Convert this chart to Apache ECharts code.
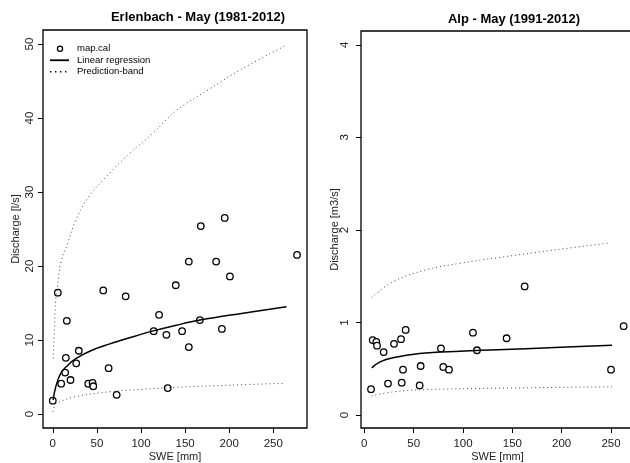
<!DOCTYPE html>
<html>
<head>
<meta charset="utf-8">
<script src="https://cdn.jsdelivr.net/npm/echarts@6/dist/echarts.min.js"></script>
<style>
  html, body { margin: 0; padding: 0; background: #fff; }
  #chart { width: 630px; height: 463px; }
</style>
</head>
<body>
<div id="chart"></div>
<script>
// Erlenbach - observed May values
var erlSwe = [0, 5.7, 9.5, 14.0, 14.8, 15.9, 20.1, 26.6, 29.5, 40.2, 45.1, 45.9, 57.2, 63.3, 72.4, 82.6,
  114.4, 120.5, 128.8, 130.3, 139.4, 146.6, 154.2, 154.2, 166.7, 167.8, 185.2, 191.7, 194.9, 200.8, 276.9];
var erlQ = [1.8, 16.4, 4.1, 5.6, 7.6, 12.6, 4.6, 6.85, 8.55, 4.1, 4.2, 3.75, 16.7, 6.2, 2.6, 15.9,
  11.2, 13.4, 10.7, 3.5, 17.4, 11.2, 20.6, 9.05, 12.7, 25.4, 20.6, 11.5, 26.5, 18.6, 21.5];
// regression curve and prediction band
var erlFitX = [0.4, 3.4, 9, 17, 26, 45, 64, 87, 113, 140, 167, 214, 265];
var erlFitY = [1.9, 3.7, 5.5, 6.6, 7.5, 8.65, 9.45, 10.3, 11.2, 12.0, 12.7, 13.6, 14.5];
var erlUpX = [0.5, 2, 3.4, 5.3, 9, 17, 26, 41, 64, 87, 113, 140, 176, 214, 264];
var erlUpY = [7.5, 12, 15.5, 17.2, 20.4, 23.1, 26.2, 29.4, 32.5, 35.2, 37.9, 41.0, 43.8, 46.6, 49.8];
var erlLoX = [0.2, 2, 5, 26, 64, 102, 140, 200, 264];
var erlLoY = [0.3, 1.1, 1.5, 2.35, 3.0, 3.35, 3.6, 3.9, 4.15];

// Alp - observed May values
var alpSwe = [6.8, 8.5, 12.2, 12.9, 19.6, 24.0, 30.1, 37.2, 37.9, 39.2, 41.9, 56.1, 57.1, 77.7, 80.0, 85.8,
  110.1, 114.2, 144.2, 162.5, 250, 262.8];
var alpQ = [0.28, 0.81, 0.79, 0.75, 0.68, 0.34, 0.77, 0.82, 0.35, 0.49, 0.92, 0.32, 0.53, 0.72, 0.52, 0.49,
  0.89, 0.70, 0.83, 1.39, 0.49, 0.96];
var alpFitX = [7.5, 16, 29, 56, 97, 135, 193, 251];
var alpFitY = [0.51, 0.575, 0.62, 0.665, 0.69, 0.705, 0.73, 0.755];
var alpUpX = [7.5, 29, 63, 97, 135, 190, 249];
var alpUpY = [1.27, 1.44, 1.57, 1.64, 1.70, 1.78, 1.86];
var alpLoX = [7.5, 29, 63, 135, 251];
var alpLoY = [0.205, 0.25, 0.275, 0.29, 0.305];

var sweTicks = [0, 50, 100, 150, 200, 250];
var erlTicks = [0, 10, 20, 30, 40, 50];
var alpTicks = [0, 1, 2, 3, 4];

function pairs(xs, ys) {
  return xs.map(function (x, i) { return [x, ys[i]]; });
}

var font = 'Liberation Sans, Arial, sans-serif';

function valueAxis(idx, min, max, ticks, name, gap, margin, vertical) {
  return {
    type: 'value',
    gridIndex: idx,
    min: min,
    max: max,
    name: name,
    nameLocation: 'middle',
    nameGap: gap,
    nameMoveOverlap: false,
    nameTextStyle: { fontFamily: font, fontSize: 11, color: '#222' },
    axisLine: { show: false, onZero: false },
    splitLine: { show: false },
    axisTick: { show: true, inside: false, length: 5, customValues: ticks, lineStyle: { color: '#000', width: 1 } },
    axisLabel: {
      customValues: ticks, margin: margin, rotate: vertical ? 90 : 0,
      fontFamily: font, fontSize: 11.5, color: '#222'
    }
  };
}

var lineSeries = function (name, data, x, dotted) {
  return {
    name: name,
    type: 'line',
    xAxisIndex: x,
    yAxisIndex: x,
    data: data,
    smooth: 0.4,
    showSymbol: false,
    symbol: 'none',
    silent: true,
    lineStyle: dotted ? { color: '#444', width: 1, type: [1, 3] } : { color: '#000', width: 1.5 },
    itemStyle: { color: '#000' }
  };
};

var ring = 'path://M0,0L0,0M22,7L22,7' +
  'M6.8,3.5A3.2,3.2 0 1,1 13.2,3.5A3.2,3.2 0 1,1 6.8,3.5Z' +
  'M8.1,3.5A1.9,1.9 0 1,0 11.9,3.5A1.9,1.9 0 1,0 8.1,3.5Z';

var option = {
  animation: false,
  title: [
    { text: 'Erlenbach - May (1981-2012)', left: 198, top: 11, textAlign: 'center', padding: 0,
      textStyle: { fontFamily: font, fontSize: 13, fontWeight: 'bold', color: '#000' } },
    { text: 'Alp - May (1991-2012)', left: 514, top: 13, textAlign: 'center', padding: 0,
      textStyle: { fontFamily: font, fontSize: 13, fontWeight: 'bold', color: '#000' } }
  ],
  legend: {
    left: 50,
    top: 43,
    orient: 'vertical',
    padding: 0,
    itemGap: 0,
    itemWidth: 22,
    itemHeight: 7,
    textStyle: { fontFamily: font, fontSize: 9.5, lineHeight: 11.5, color: '#000' },
    data: [
      { name: 'map.cal', icon: ring, itemStyle: { color: '#000', borderWidth: 0 } },
      { name: 'Linear regression', icon: 'path://M0,0L0,0M22,7L22,7M0,2.6H19V4.4H0Z', itemStyle: { color: '#000', borderWidth: 0 } },
      { name: 'Prediction-band', icon: 'path://M0,0L0,0M22,7L22,7M0,2.8h1.4v1.4h-1.4zM5,2.8h1.4v1.4h-1.4zM10,2.8h1.4v1.4h-1.4zM15,2.8h1.4v1.4h-1.4z', itemStyle: { color: '#000', borderWidth: 0 } }
    ]
  },
  grid: [
    { left: 43, top: 30, width: 264, bottom: 35, outerBoundsMode: 'none', show: true,
      borderColor: '#000', borderWidth: 1.3, backgroundColor: 'transparent' },
    { left: 361, top: 31, right: -4, bottom: 35, outerBoundsMode: 'none', show: true,
      borderColor: '#000', borderWidth: 1.3, backgroundColor: 'transparent' }
  ],
  xAxis: [
    valueAxis(0, -11.1, 288.2, sweTicks, 'SWE [mm]', 23, 10, false),
    valueAxis(1, -3.35, 273.3, sweTicks, 'SWE [mm]', 23, 10, false)
  ],
  yAxis: [
    valueAxis(0, -1.89, 51.9, erlTicks, 'Discharge [l/s]', 22, 7, true),
    valueAxis(1, -0.14, 4.15, alpTicks, 'Discharge [m3/s]', 21, 10, true)
  ],
  series: [
    {
      name: 'map.cal', type: 'scatter', xAxisIndex: 0, yAxisIndex: 0,
      data: pairs(erlSwe, erlQ), symbol: 'circle', symbolSize: 6.5, silent: true,
      itemStyle: { color: '#fff', borderColor: '#000', borderWidth: 1.3, opacity: 1 }
    },
    lineSeries('Linear regression', pairs(erlFitX, erlFitY), 0, false),
    lineSeries('Prediction-band', pairs(erlUpX, erlUpY), 0, true),
    lineSeries('Prediction-band', pairs(erlLoX, erlLoY), 0, true),
    {
      name: 'map.cal', type: 'scatter', xAxisIndex: 1, yAxisIndex: 1,
      data: pairs(alpSwe, alpQ), symbol: 'circle', symbolSize: 6.5, silent: true,
      itemStyle: { color: '#fff', borderColor: '#000', borderWidth: 1.3, opacity: 1 }
    },
    lineSeries('Linear regression', pairs(alpFitX, alpFitY), 1, false),
    lineSeries('Prediction-band', pairs(alpUpX, alpUpY), 1, true),
    lineSeries('Prediction-band', pairs(alpLoX, alpLoY), 1, true)
  ]
};

var chart = echarts.init(document.getElementById('chart'), null, { renderer: 'canvas' });
chart.setOption(option);
</script>
</body>
</html>
